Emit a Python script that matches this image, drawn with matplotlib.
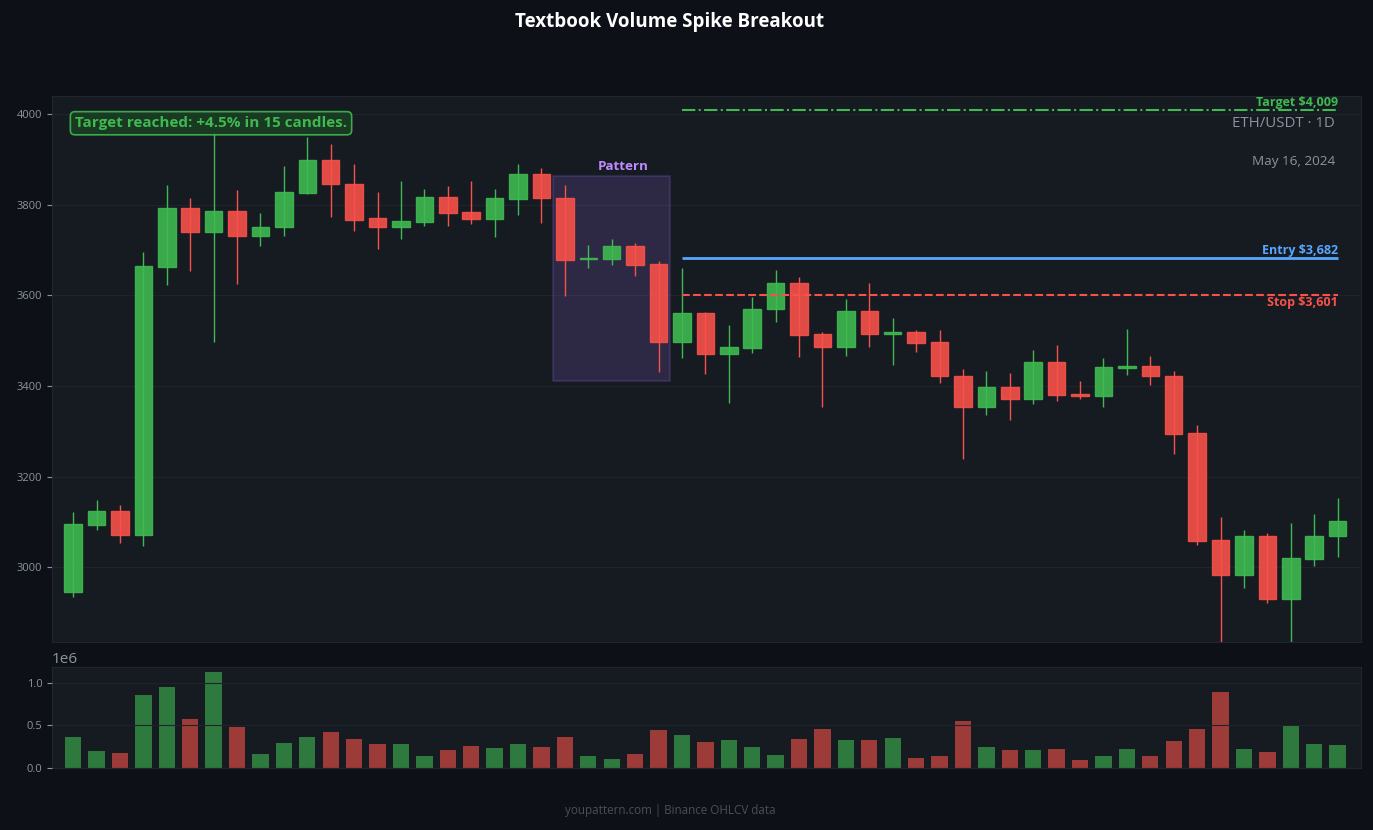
import numpy as np
import matplotlib.pyplot as plt
from matplotlib.patches import Rectangle

plt.rcParams['font.family'] = ['Open Sans', 'DejaVu Sans']

# ---- colours ----
BG = '#0d1117'
PANEL = '#161b22'
GRID = '#1f242b'
SPINE = '#21262d'
MUTED = '#8b949e'
UP = '#3fb950'
DOWN = '#f85149'
BLUE = '#58a6ff'
PURPLE = '#a371f7'

# ---- ETH/USDT daily candles ----
opens = [2945, 3093, 3125, 3072, 3662, 3792, 3739, 3787, 3730, 3750,
         3827, 3898, 3846, 3770, 3750, 3763, 3818, 3785, 3768, 3812,
         3869, 3816, 3680, 3681, 3710, 3670, 3498, 3562, 3470, 3483,
         3569, 3628, 3514, 3485, 3565, 3514, 3520, 3498, 3423, 3353,
         3397, 3372, 3454, 3383, 3379, 3439, 3445, 3423, 3297, 3061,
         2982, 3070, 2931, 3019, 3068]
highs = [3121, 3148, 3137, 3695, 3843, 3815, 3960, 3832, 3781, 3885,
         3950, 3934, 3890, 3828, 3852, 3834, 3841, 3852, 3834, 3890,
         3881, 3843, 3711, 3724, 3715, 3675, 3660, 3563, 3534, 3596,
         3656, 3640, 3520, 3592, 3627, 3550, 3523, 3523, 3437, 3433,
         3428, 3479, 3490, 3411, 3461, 3525, 3466, 3433, 3315, 3110,
         3082, 3075, 3097, 3117, 3152]
lows = [2934, 3082, 3054, 3047, 3623, 3653, 3497, 3625, 3709, 3731,
        3824, 3773, 3742, 3702, 3725, 3754, 3754, 3758, 3729, 3778,
        3760, 3599, 3661, 3667, 3643, 3431, 3462, 3427, 3363, 3473,
        3542, 3464, 3354, 3467, 3486, 3447, 3475, 3407, 3239, 3336,
        3326, 3361, 3366, 3372, 3353, 3425, 3403, 3250, 3049, 2820,
        2955, 2922, 2820, 3003, 3023]
closes = [3095, 3125, 3072, 3664, 3792, 3739, 3787, 3730, 3752, 3829,
          3898, 3845, 3767, 3750, 3765, 3818, 3781, 3768, 3814, 3869,
          3814, 3679, 3683, 3710, 3668, 3498, 3562, 3470, 3485, 3571,
          3628, 3512, 3485, 3565, 3514, 3520, 3496, 3421, 3353, 3397,
          3372, 3454, 3381, 3379, 3441, 3445, 3421, 3295, 3059, 2982,
          3070, 2931, 3021, 3070, 3103]
volumes = [0.363, 0.199, 0.176, 0.855, 0.949, 0.574, 1.125, 0.480, 0.164, 0.293,
           0.363, 0.422, 0.340, 0.281, 0.281, 0.141, 0.211, 0.258, 0.234, 0.281,
           0.246, 0.363, 0.141, 0.105, 0.164, 0.445, 0.387, 0.305, 0.328, 0.246,
           0.152, 0.340, 0.457, 0.328, 0.328, 0.352, 0.117, 0.141, 0.551, 0.246,
           0.211, 0.211, 0.223, 0.094, 0.141, 0.223, 0.141, 0.316, 0.457, 0.891,
           0.223, 0.188, 0.504, 0.281, 0.270]
volumes = [v * 1e6 for v in volumes]

# pattern window (candle indices) and trade levels
PAT_START, PAT_END = 21, 25
ENTRY_IDX = 26
ENTRY = 3682
STOP = 3601
TARGET = 4009

n = len(opens)
x = np.arange(n)

fig = plt.figure(figsize=(13.73, 8.30), dpi=100, facecolor=BG)
ax = fig.add_axes([0.0379, 0.2265, 0.9534, 0.6578])
axv = fig.add_axes([0.0379, 0.0747, 0.9534, 0.1217], sharex=ax)

for a in (ax, axv):
    a.set_facecolor(PANEL)
    for s in a.spines.values():
        s.set_color(SPINE)
    a.tick_params(colors=MUTED, labelsize=8)
    a.grid(axis='y', color=GRID, linewidth=0.8)
    a.set_axisbelow(True)

# ---- candles ----
w = 0.75
for i in range(n):
    up = closes[i] >= opens[i]
    c = UP if up else DOWN
    ax.vlines(x[i], lows[i], highs[i], color=c, linewidth=1, zorder=2)
    lo = min(opens[i], closes[i])
    h = max(abs(closes[i] - opens[i]), 2)
    ax.add_patch(Rectangle((x[i] - w / 2, lo), w, h, facecolor=c, edgecolor=c,
                           linewidth=1, alpha=0.9, zorder=3))

# ---- pattern box ----
p_hi = max(highs[PAT_START:PAT_END + 1])
p_lo = min(lows[PAT_START:PAT_END + 1])
pad = (p_hi - p_lo) * 0.05
ax.add_patch(Rectangle((PAT_START - 0.5, p_lo - pad), PAT_END - PAT_START + 1,
                       p_hi - p_lo + 2 * pad, facecolor=PURPLE, alpha=0.17,
                       edgecolor=PURPLE, linewidth=1.5, zorder=1))
ax.annotate('Pattern', xy=((PAT_START + PAT_END) / 2 + 0.5, p_hi + pad),
            xytext=(0, 2), textcoords='offset points', ha='center', va='bottom',
            color='#bc8cff', fontsize=9.6, fontweight='bold')

# ---- trade levels ----
x0, x1 = ENTRY_IDX, n - 1
ax.hlines(TARGET, x0, x1, colors=UP, linestyles='-.', linewidth=1.5, zorder=4)
ax.hlines(ENTRY, x0, x1, colors=BLUE, linestyles='-', linewidth=2, zorder=4)
ax.hlines(STOP, x0, x1, colors=DOWN, linestyles='--', linewidth=1.5, zorder=4)
ax.annotate(f'Target ${TARGET:,}', xy=(x1, TARGET), xytext=(0, 1),
            textcoords='offset points', ha='right', va='bottom',
            color=UP, fontsize=9, fontweight='bold')
ax.annotate(f'Entry ${ENTRY:,}', xy=(x1, ENTRY), xytext=(0, 1),
            textcoords='offset points', ha='right', va='bottom',
            color=BLUE, fontsize=9, fontweight='bold')
ax.annotate(f'Stop ${STOP:,}', xy=(x1, STOP), xytext=(0, -1),
            textcoords='offset points', ha='right', va='top',
            color=DOWN, fontsize=9, fontweight='bold')

# ---- text blocks ----
ax.text(0.0175, 0.963, 'Target reached: +4.5% in 15 candles.', transform=ax.transAxes,
        ha='left', va='top', color=UP, fontsize=11, fontweight='bold', zorder=6,
        bbox=dict(boxstyle='round,pad=0.3', facecolor='#1a3d24', edgecolor=UP,
                  linewidth=1.2, alpha=0.9))
ax.text(0.980, 0.949, 'ETH/USDT · 1D', transform=ax.transAxes, ha='right',
        va='center', color=MUTED, fontsize=10.8)
ax.text(0.980, 0.881, 'May 16, 2024', transform=ax.transAxes, ha='right',
        va='center', color=MUTED, fontsize=9.7)

ax.set_xlim(-0.9, n - 0.0)
ax.set_ylim(2835, 4040)
ax.set_yticks([3000, 3200, 3400, 3600, 3800, 4000])
ax.tick_params(axis='x', bottom=False, labelbottom=False)

# ---- volume ----
vcol = [UP if closes[i] >= opens[i] else DOWN for i in range(n)]
axv.bar(x, volumes, width=0.7, color=vcol, alpha=0.6, zorder=2)
axv.set_axisbelow(False)
axv.grid(axis='y', color=GRID, linewidth=0.8, zorder=1)
axv.set_ylim(0, max(volumes) * 1.055)
axv.set_yticks([0, 0.5e6, 1.0e6])
axv.tick_params(axis='x', bottom=False, labelbottom=False)
axv.yaxis.get_offset_text().set_color(MUTED)
axv.yaxis.get_offset_text().set_fontsize(11)

fig.text(0.4876, 0.9735, 'Textbook Volume Spike Breakout', color='white', fontsize=13.5,
         fontweight='bold', ha='center', va='center')
fig.text(0.4883, 0.024, 'youpattern.com | Binance OHLCV data', ha='center',
         va='center', color='#484f58', fontsize=8.4)

fig.savefig('out.png', dpi=100, facecolor=BG)
